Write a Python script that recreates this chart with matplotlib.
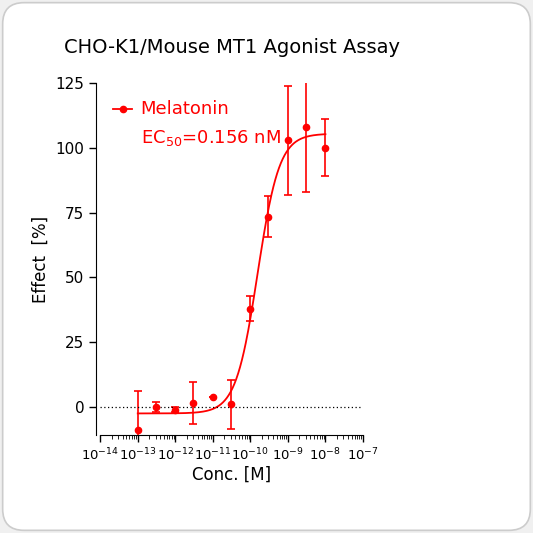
import numpy as np
import matplotlib.pyplot as plt
from matplotlib.patches import FancyBboxPatch
from matplotlib.ticker import LogLocator, NullFormatter

conc = [1e-13, 3e-13, 1e-12, 3e-12, 1e-11, 3e-11, 1e-10, 3e-10, 1e-9, 3e-9, 1e-8]
effect = [-9, 0, -1, 1.5, 4, 1, 38, 73.5, 103, 108, 100]
err = [15, 2, 1, 8, 0, 9.5, 5, 8, 21, 25, 11]

bottom, top, ec50, hill = -2.5, 105.5, 1.56e-10, 1.5

fig = plt.figure(figsize=(5.33, 5.33), dpi=100, facecolor="#f0f0f0")
box = FancyBboxPatch((0.005, 0.005), 0.99, 0.99, boxstyle="round,pad=0,rounding_size=0.04",
                     transform=fig.transFigure, facecolor="white", edgecolor="#cccccc", lw=1.2, zorder=-10)
fig.patches.append(box)
ax = fig.add_axes([0.188, 0.184, 0.493, 0.66])
ax.set_facecolor("none")

xs = np.logspace(-13, -8, 300)
ys = bottom + (top - bottom) / (1 + (ec50 / xs) ** hill)
ax.plot(xs, ys, color="red", lw=1.3)
ax.errorbar(conc, effect, yerr=err, fmt="o", color="red", ms=4.5, capsize=3, elinewidth=1.2, capthick=1.2)
ax.plot([1e-14, 1e-7], [0, 0], color="black", ls=(0, (1, 2)), lw=0.9)

ax.set_xscale("log")
ax.set_xlim(1e-14, 1e-7)
ax.set_ylim(-10.8, 125)
ax.set_yticks([0, 25, 50, 75, 100, 125])
ax.xaxis.set_major_locator(LogLocator(base=10, numticks=20))
ax.xaxis.set_minor_locator(LogLocator(base=10, subs=np.arange(2, 10), numticks=20))
ax.xaxis.set_minor_formatter(NullFormatter())
ax.tick_params(axis="y", labelsize=11, width=1, length=5)
ax.tick_params(axis="x", labelsize=9.5, width=1, length=5)
ax.tick_params(axis="x", which="minor", length=3)
for s in ["top", "right"]:
    ax.spines[s].set_visible(False)
ax.spines["left"].set_position(("outward", 3))
ax.set_xlabel("Conc. [M]", fontsize=12, labelpad=2)
ax.set_ylabel("Effect  [%]", fontsize=12)
ax.set_title("CHO-K1/Mouse MT1 Agonist Assay", fontsize=14, pad=22)

ax.plot([2.2e-14, 7e-14], [115, 115], color="red", lw=1.3)
ax.plot([4e-14], [115], "o", color="red", ms=4.5)
ax.text(1.2e-13, 115, "Melatonin", color="red", fontsize=13, va="center")
ax.text(1.2e-13, 104, "EC$_{50}$=0.156 nM", color="red", fontsize=13, va="center")

fig.savefig("out.png", dpi=100, facecolor=fig.get_facecolor())
